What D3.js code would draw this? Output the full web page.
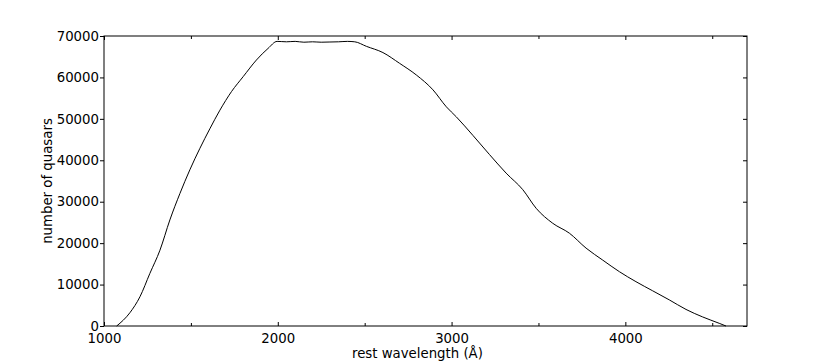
<!DOCTYPE html>
<html>
<head>
<meta charset="utf-8">
<script src="https://cdn.jsdelivr.net/npm/d3@7"></script>
<style>
  body { margin: 0; background: #fff; }
  text { font-family: "DejaVu Sans", sans-serif; fill: #000; }
</style>
</head>
<body>
<script>
// values
var wavelength = [1073, 1149, 1207, 1264, 1322, 1379, 1437, 1494, 1552, 1609, 1667, 1734, 1801, 1877, 1944, 1996,
                  2050, 2100, 2150, 2200, 2250, 2300, 2350, 2400, 2443,
                  2510, 2605, 2701, 2797, 2893, 2970, 3027, 3123, 3218, 3314, 3410, 3487, 3582, 3678, 3774,
                  3870, 3966, 4061, 4157, 4253, 4349, 4444, 4540, 4579];
var quasars = [0, 3200, 7070, 12700, 18300, 25600, 32000, 37700, 42900, 47600, 52100, 56600, 60200, 64200, 67000, 68700,
               68600, 68700, 68500, 68600, 68500, 68550, 68600, 68700, 68600,
               67500, 66000, 63400, 60600, 57000, 52900, 50500, 46000, 41400, 36900, 32900, 28400, 24800, 22400, 18800,
               15900, 13100, 10700, 8500, 6300, 4000, 2200, 650, 0];
var xTicks = [1000, 2000, 3000, 4000];
var xMinor = [1500, 2500, 3500, 4500];
var yTicks = [0, 10000, 20000, 30000, 40000, 50000, 60000, 70000];

var width = 830,
    height = 363;
var plotL = 104, plotR = 747, plotT = 36, plotB = 326;

var x = d3.scaleLinear().domain([1000, 4700]).range([plotL, plotR]);
var y = d3.scaleLinear().domain([0, 70000]).range([plotB, plotT]);

var svg = d3.select("body").append("svg")
    .attr("width", width)
    .attr("height", height);

// the curve
var data = wavelength.map(function(w, i) { return {w: w, n: quasars[i]}; });
var line = d3.line()
    .x(function(d) { return x(d.w); })
    .y(function(d) { return y(d.n); })
    .curve(d3.curveMonotoneX);

svg.append("path")
    .datum(data)
    .attr("d", line)
    .attr("fill", "none")
    .attr("stroke", "#000")
    .attr("stroke-width", 1);

// frame
svg.append("rect")
    .attr("x", plotL).attr("y", plotT)
    .attr("width", plotR - plotL).attr("height", plotB - plotT)
    .attr("fill", "none")
    .attr("stroke", "#000")
    .attr("stroke-width", 1);

// bottom axis, ticks inward
var xAxis = d3.axisBottom(x).tickValues(xTicks).tickSize(-4).tickPadding(8).tickFormat(d3.format("d"));
var gx = svg.append("g").attr("transform", "translate(0," + plotB + ")").call(xAxis);
gx.select(".domain").remove();
gx.selectAll("text").attr("font-size", "13.3px").attr("font-family", "DejaVu Sans");

var gxm = svg.append("g").attr("transform", "translate(0," + plotB + ")")
    .call(d3.axisBottom(x).tickValues(xMinor).tickSize(-3).tickFormat(""));
gxm.select(".domain").remove();

// top axis ticks (no labels)
var gt = svg.append("g").attr("transform", "translate(0," + plotT + ")")
    .call(d3.axisTop(x).tickValues(xTicks).tickSize(-4).tickFormat(""));
gt.select(".domain").remove();
var gtm = svg.append("g").attr("transform", "translate(0," + plotT + ")")
    .call(d3.axisTop(x).tickValues(xMinor).tickSize(-3).tickFormat(""));
gtm.select(".domain").remove();

// left axis, ticks outward
var gy = svg.append("g").attr("transform", "translate(" + plotL + ",0)")
    .call(d3.axisLeft(y).tickValues(yTicks).tickSize(4).tickPadding(1).tickFormat(d3.format("d")));
gy.select(".domain").remove();
gy.selectAll("text").attr("font-size", "13.3px").attr("font-family", "DejaVu Sans");

// right axis ticks inward
var gr = svg.append("g").attr("transform", "translate(" + plotR + ",0)")
    .call(d3.axisRight(y).tickValues(yTicks).tickSize(-4).tickFormat(""));
gr.select(".domain").remove();

svg.selectAll(".tick line").attr("stroke", "#000");

// axis titles
svg.append("text")
    .attr("x", 352).attr("y", 358)
    .attr("font-size", "13.3px")
    .text("rest wavelength (Å)");

svg.append("text")
    .attr("transform", "translate(52," + ((plotT + plotB) / 2) + ") rotate(-90)")
    .attr("text-anchor", "middle")
    .attr("font-size", "13.3px")
    .text("number of quasars");
</script>
</body>
</html>
